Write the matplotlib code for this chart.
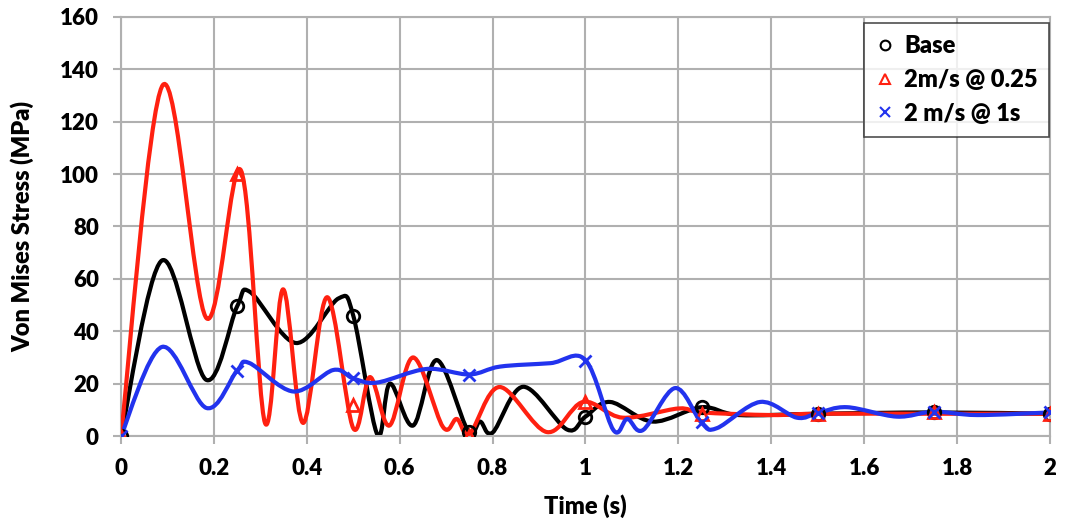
"""
Von Mises stress vs time, three load cases (smoothed lines + sparse markers)
"""

import matplotlib
matplotlib.use('Agg')
import matplotlib.pyplot as plt
from matplotlib.path import Path
from matplotlib.patches import PathPatch
from matplotlib.lines import Line2D

plt.rcParams['font.family'] = ['Lato', 'DejaVu Sans']
plt.rcParams['font.weight'] = 'heavy'

# --- data ---
# Base (black)
base_t = [0, 0.088, 0.183, 0.25, 0.278, 0.377, 0.468, 0.5, 0.552, 0.579, 0.629,
          0.68, 0.747, 0.773, 0.80, 0.866, 0.96, 1.0, 1.053, 1.145, 1.25, 1.33,
          1.5, 1.75, 2.0]
base_v = [0, 67, 21.5, 49.5, 55, 35.5, 52.5, 46, 0.5, 20, 4,
          29, 2, 5.5, 1.3, 18.8, 2.5, 7.4, 13, 5.5, 11, 8,
          8.5, 9, 8.5]

# 2m/s @ 0.25 (red)
red_t = [0, 0.09, 0.184, 0.258, 0.31, 0.349, 0.392, 0.444, 0.5, 0.536, 0.578,
         0.629, 0.693, 0.723, 0.751, 0.815, 0.917, 0.995, 1.08, 1.2, 1.25, 1.4,
         1.5, 1.75, 2.0]
red_v = [0, 134, 45, 101.5, 5, 56, 5, 53, 3, 22.5, 4,
         30, 3.5, 6.5, 1, 18.7, 1.5, 13, 7, 10.5, 9, 8,
         8.5, 8.5, 8.5]

# 2 m/s @ 1s (blue)
blue_t = [0, 0.088, 0.184, 0.25, 0.276, 0.371, 0.457, 0.5, 0.551, 0.658, 0.75,
          0.816, 0.924, 1.0, 1.06, 1.09, 1.124, 1.193, 1.25, 1.283, 1.376, 1.455,
          1.5, 1.563, 1.67, 1.75, 1.843, 2.0]
blue_v = [0, 34, 10.7, 25, 27.9, 17, 25.2, 22, 20.4, 25.6, 23.5,
          26.5, 27.8, 29, 2.3, 6.5, 2.3, 18.3, 5, 3, 13, 7,
          8.8, 11, 7.4, 9.3, 8, 9]

# markers every 0.25 s
mark_t = [0, 0.25, 0.5, 0.75, 1.0, 1.25, 1.5, 1.75, 2.0]
base_mark = [0, 49.5, 46, 1.5, 7.4, 11, 8.5, 9, 8.5]
red_mark = [0, 100, 12, 0, 13, 8.5, 8.5, 9, 8.5]
blue_mark = [0, 25, 22, 23.3, 28.7, 5.5, 8.8, 9.3, 9]

labels = ['Base', '2m/s @ 0.25', '2 m/s @ 1s']
colors = ['#000000', '#ff2010', '#2233ee']


def smooth_path(xs, ys):
    """Catmull-Rom style bezier through the points (like Excel's smoothed line)"""
    pts = list(zip(xs, ys))
    verts = [pts[0]]
    codes = [Path.MOVETO]
    n = len(pts)
    for i in range(n - 1):
        p0 = pts[i - 1] if i > 0 else pts[i]
        p1 = pts[i]
        p2 = pts[i + 1]
        p3 = pts[i + 2] if i + 2 < n else pts[i + 1]
        c1 = (p1[0] + (p2[0] - p0[0]) / 6, p1[1] + (p2[1] - p0[1]) / 6)
        c2 = (p2[0] - (p3[0] - p1[0]) / 6, p2[1] - (p3[1] - p1[1]) / 6)
        verts += [c1, c2, p2]
        codes += [Path.CURVE4] * 3
    return Path(verts, codes)


fig = plt.figure(figsize=(10.65, 5.29), dpi=100, facecolor='white')
ax = fig.add_axes([0.1136, 0.1758, 0.8723, 0.7921])

grid_c = '#b0b0b0'
for t, v, c, z in [(base_t, base_v, colors[0], 2), (red_t, red_v, colors[1], 3),
                   (blue_t, blue_v, colors[2], 4)]:
    ax.add_patch(PathPatch(smooth_path(t, v), fill=False, edgecolor=c,
                           linewidth=3, capstyle='round', joinstyle='round', zorder=z))

ax.plot(mark_t, base_mark, linestyle='none', marker='o', markersize=9,
        markerfacecolor='none', markeredgecolor=colors[0], markeredgewidth=2, zorder=5)
ax.plot(mark_t, red_mark, linestyle='none', marker='^', markersize=9,
        markerfacecolor='none', markeredgecolor=colors[1], markeredgewidth=2, zorder=5)
ax.plot(mark_t, blue_mark, linestyle='none', marker='x', markersize=9,
        markeredgecolor=colors[2], markeredgewidth=2, zorder=5)

ax.set_xlim(0, 2)
ax.set_ylim(0, 160)
ax.set_xticks([0, 0.2, 0.4, 0.6, 0.8, 1.0, 1.2, 1.4, 1.6, 1.8, 2.0])
ax.set_xticklabels(['0', '0.2', '0.4', '0.6', '0.8', '1', '1.2', '1.4', '1.6', '1.8', '2'])
ax.set_yticks(range(0, 161, 20))
ax.grid(True, color=grid_c, linewidth=1.5)
ax.set_axisbelow(True)
for s in ax.spines.values():
    s.set_color(grid_c)
    s.set_linewidth(1.5)
ax.tick_params(axis='both', direction='out', length=6, width=1.5, color=grid_c,
               labelsize=16, pad=10)

ax.set_xlabel('Time (s)', fontsize=17, fontweight='heavy', labelpad=11)
ax.set_ylabel('Von Mises Stress (MPa)', fontsize=17, fontweight='heavy', labelpad=18)

handles = [
    Line2D([], [], linestyle='none', marker='o', markersize=7, markerfacecolor='none',
           markeredgecolor=colors[0], markeredgewidth=1.5),
    Line2D([], [], linestyle='none', marker='^', markersize=7, markerfacecolor='none',
           markeredgecolor=colors[1], markeredgewidth=1.5),
    Line2D([], [], linestyle='none', marker='x', markersize=7,
           markeredgecolor=colors[2], markeredgewidth=1.5),
]
leg = ax.legend(handles, labels, loc='upper right', bbox_to_anchor=(1.012, 1.013),
                fontsize=17, frameon=True, fancybox=False, handlelength=0.8,
                handletextpad=0.4, borderpad=0.5, labelspacing=0.5)
leg.get_frame().set_edgecolor('#222222')
leg.get_frame().set_linewidth(1.2)
for txt in leg.get_texts():
    txt.set_fontweight('heavy')

fig.savefig('out.png', dpi=100, facecolor='white')
plt.close(fig)
